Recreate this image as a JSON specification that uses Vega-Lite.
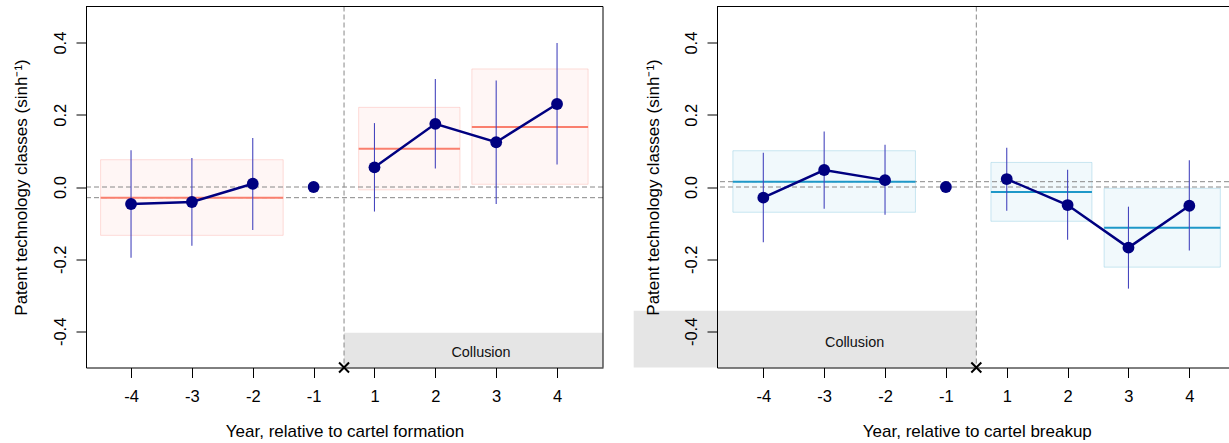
{
  "$schema": "https://vega.github.io/schema/vega-lite/v6.json",
  "padding": {"left": 12, "top": 5.5, "right": 0, "bottom": 0},
  "background": "white",
  "config": {
    "font": "Liberation Sans",
    "view": {"stroke": null},
    "axis": {"grid": false, "domain": true, "domainColor": "#000", "domainWidth": 1, "tickColor": "#000", "tickWidth": 1, "tickSize": 10, "labelColor": "#000", "labelFontSize": 16.5, "titleColor": "#000", "titleFontSize": 17, "titleFontWeight": "normal", "zindex": 1, "labelFlush": false, "labelOverlap": false}
  },
  "datasets": {
    "pts": [
      {"panel": "F", "year": -4, "x": -4, "grp": "pre", "est": -0.047, "lo": -0.196, "hi": 0.102},
      {"panel": "F", "year": -3, "x": -3, "grp": "pre", "est": -0.0415, "lo": -0.163, "hi": 0.080},
      {"panel": "F", "year": -2, "x": -2, "grp": "pre", "est": 0.009, "lo": -0.119, "hi": 0.136},
      {"panel": "F", "year": -1, "x": -1, "grp": "ref", "est": 0.0, "lo": null, "hi": null},
      {"panel": "F", "year": 1, "x": 0, "grp": "post", "est": 0.0545, "lo": -0.068, "hi": 0.177},
      {"panel": "F", "year": 2, "x": 1, "grp": "post", "est": 0.175, "lo": 0.051, "hi": 0.299},
      {"panel": "F", "year": 3, "x": 2, "grp": "post", "est": 0.124, "lo": -0.047, "hi": 0.295},
      {"panel": "F", "year": 4, "x": 3, "grp": "post", "est": 0.230, "lo": 0.062, "hi": 0.399},
      {"panel": "B", "year": -4, "x": -4, "grp": "pre", "est": -0.0296, "lo": -0.153, "hi": 0.095},
      {"panel": "B", "year": -3, "x": -3, "grp": "pre", "est": 0.047, "lo": -0.060, "hi": 0.154},
      {"panel": "B", "year": -2, "x": -2, "grp": "pre", "est": 0.019, "lo": -0.077, "hi": 0.117},
      {"panel": "B", "year": -1, "x": -1, "grp": "ref", "est": 0.0, "lo": null, "hi": null},
      {"panel": "B", "year": 1, "x": 0, "grp": "post", "est": 0.022, "lo": -0.066, "hi": 0.109},
      {"panel": "B", "year": 2, "x": 1, "grp": "post", "est": -0.050, "lo": -0.146, "hi": 0.048},
      {"panel": "B", "year": 3, "x": 2, "grp": "post", "est": -0.168, "lo": -0.2815, "hi": -0.0545},
      {"panel": "B", "year": 4, "x": 3, "grp": "post", "est": -0.052, "lo": -0.176, "hi": 0.074}
    ],
    "boxes": [
      {"panel": "F", "x1": -4.5, "x2": -1.5, "lo": -0.134, "hi": 0.0756, "mean": -0.0296},
      {"panel": "F", "x1": -0.26, "x2": 1.405, "lo": -0.008, "hi": 0.2206, "mean": 0.106},
      {"panel": "F", "x1": 1.60, "x2": 3.51, "lo": 0.0075, "hi": 0.327, "mean": 0.166},
      {"panel": "B", "x1": -4.5, "x2": -1.5, "lo": -0.070, "hi": 0.1005, "mean": 0.0147},
      {"panel": "B", "x1": -0.26, "x2": 1.40, "lo": -0.095, "hi": 0.068, "mean": -0.0138},
      {"panel": "B", "x1": 1.60, "x2": 3.51, "lo": -0.222, "hi": -0.0036, "mean": -0.1127}
    ],
    "hlines": [
      {"panel": "F", "y": 0},
      {"panel": "F", "y": -0.0296},
      {"panel": "B", "y": 0},
      {"panel": "B", "y": 0.0147}
    ],
    "event": [
      {"panel": "F", "x": -0.5, "y": -0.5},
      {"panel": "B", "x": -0.5, "y": -0.5}
    ],
    "coll": [
      {"panel": "F", "x1": -0.5, "x2": 3.755, "y1": -0.5, "y2": -0.404, "tx": 1.75, "ty": -0.4603, "label": "Collusion"},
      {"panel": "B", "x1": -6.13, "x2": -0.5, "y1": -0.5, "y2": -0.343, "tx": -2.5, "ty": -0.431, "label": "Collusion"}
    ],
    "frame": [
      {"panel": "F", "top": 0.5, "right": 3.755},
      {"panel": "B", "top": 0.5, "right": null}
    ]
  },
  "hconcat": [
    {
      "width": 517,
      "height": 361,
      "layer": [
        {
          "data": {"name": "coll"},
          "transform": [{"filter": "datum.panel == 'F'"}],
          "mark": {"type": "rect", "color": "#E5E5E5"},
          "encoding": {
            "x": {"field": "x1", "type": "quantitative", "scale": {"domain": [-4.74, 3.755], "nice": false, "zero": false},
                  "axis": {"title": "Year, relative to cartel formation", "values": [-4, -3, -2, -1, 0, 1, 2, 3], "zindex": 1,
                           "labelExpr": "datum.value < 0 ? '-' + abs(datum.value) : '' + (datum.value + 1)",
                           "labelBaseline": "alphabetic", "labelPadding": 23.5, "titleBaseline": "alphabetic", "titleY": 68.5}},
            "x2": {"field": "x2"},
            "y": {"field": "y1", "type": "quantitative", "scale": {"domain": [-0.5, 0.5], "nice": false, "zero": false},
                  "axis": {"title": "Patent technology classes (sinh⁻¹)", "values": [-0.4, -0.2, 0, 0.2, 0.4], "zindex": 1,
                           "labelExpr": "datum.value < 0 ? '-' + format(abs(datum.value), '.1f') : format(datum.value, '.1f')",
                           "labelAngle": 270, "labelAlign": "center", "labelBaseline": "alphabetic", "labelPadding": 11,
                           "titleAngle": 270, "titleAlign": "center", "titleBaseline": "alphabetic", "titleX": -59.5, "titleY": 180.5}},
            "y2": {"field": "y2"}
          }
        },
        {
          "data": {"name": "boxes"},
          "transform": [{"filter": "datum.panel == 'F'"}],
          "mark": {"type": "rect", "fill": "#FA8072", "fillOpacity": 0.07, "stroke": "#FA8072", "strokeOpacity": 0.25, "strokeWidth": 1},
          "encoding": {
            "x": {"field": "x1", "type": "quantitative"},
            "x2": {"field": "x2"},
            "y": {"field": "lo", "type": "quantitative"},
            "y2": {"field": "hi"}
          }
        },
        {
          "data": {"name": "hlines"},
          "transform": [{"filter": "datum.panel == 'F'"}],
          "mark": {"type": "rule", "color": "#888888", "strokeWidth": 1, "strokeDash": [5, 3]},
          "encoding": {"y": {"field": "y", "type": "quantitative"}}
        },
        {
          "data": {"name": "event"},
          "transform": [{"filter": "datum.panel == 'F'"}],
          "mark": {"type": "rule", "color": "#888888", "strokeWidth": 1, "strokeDash": [5, 3]},
          "encoding": {"x": {"field": "x", "type": "quantitative"}}
        },
        {
          "data": {"name": "boxes"},
          "transform": [{"filter": "datum.panel == 'F'"}],
          "mark": {"type": "rule", "color": "#FA7F6E", "strokeWidth": 2},
          "encoding": {
            "x": {"field": "x1", "type": "quantitative"},
            "x2": {"field": "x2"},
            "y": {"field": "mean", "type": "quantitative"}
          }
        },
        {
          "data": {"name": "pts"},
          "transform": [{"filter": "datum.panel == 'F' && datum.lo != null"}],
          "mark": {"type": "rule", "color": "#4646BE", "strokeWidth": 1.1},
          "encoding": {
            "x": {"field": "x", "type": "quantitative"},
            "y": {"field": "lo", "type": "quantitative"},
            "y2": {"field": "hi"}
          }
        },
        {
          "data": {"name": "pts"},
          "transform": [{"filter": "datum.panel == 'F' && datum.grp != 'ref'"}],
          "mark": {"type": "line", "color": "#000080", "strokeWidth": 2.5},
          "encoding": {
            "x": {"field": "x", "type": "quantitative"},
            "y": {"field": "est", "type": "quantitative"},
            "detail": {"field": "grp"}
          }
        },
        {
          "data": {"name": "pts"},
          "transform": [{"filter": "datum.panel == 'F'"}],
          "mark": {"type": "circle", "color": "#000080", "size": 140, "opacity": 1},
          "encoding": {
            "x": {"field": "x", "type": "quantitative"},
            "y": {"field": "est", "type": "quantitative"}
          }
        },
        {
          "data": {"name": "event"},
          "transform": [{"filter": "datum.panel == 'F'"}],
          "mark": {"type": "point", "shape": "M-1,-1L1,1M-1,1L1,-1", "filled": false, "stroke": "#000", "strokeWidth": 2, "size": 100, "opacity": 1},
          "encoding": {
            "x": {"field": "x", "type": "quantitative"},
            "y": {"field": "y", "type": "quantitative"}
          }
        },
        {
          "data": {"name": "coll"},
          "transform": [{"filter": "datum.panel == 'F'"}],
          "mark": {"type": "text", "fontSize": 14.4, "color": "#111", "align": "center", "baseline": "middle"},
          "encoding": {
            "x": {"field": "tx", "type": "quantitative"},
            "y": {"field": "ty", "type": "quantitative"},
            "text": {"field": "label"}
          }
        },
        {
          "data": {"name": "frame"},
          "transform": [{"filter": "datum.panel == 'F'"}],
          "mark": {"type": "rule", "color": "#000", "strokeWidth": 1},
          "encoding": {"y": {"field": "top", "type": "quantitative"}}
        },
        {
          "data": {"name": "frame"},
          "transform": [{"filter": "datum.panel == 'F' && datum.right != null"}],
          "mark": {"type": "rule", "color": "#000", "strokeWidth": 1},
          "encoding": {"x": {"field": "right", "type": "quantitative"}}
        }
      ]
    },
    {
      "width": 512,
      "height": 361,
      "layer": [
        {
          "data": {"name": "coll"},
          "transform": [{"filter": "datum.panel == 'B'"}],
          "mark": {"type": "rect", "color": "#E5E5E5"},
          "encoding": {
            "x": {"field": "x1", "type": "quantitative", "scale": {"domain": [-4.761, 3.652], "nice": false, "zero": false},
                  "axis": {"title": "Year, relative to cartel breakup", "values": [-4, -3, -2, -1, 0, 1, 2, 3], "zindex": 1,
                           "labelExpr": "datum.value < 0 ? '-' + abs(datum.value) : '' + (datum.value + 1)",
                           "labelBaseline": "alphabetic", "labelPadding": 23.5, "titleBaseline": "alphabetic", "titleY": 68.5, "titleX": 259.8}},
            "x2": {"field": "x2"},
            "y": {"field": "y1", "type": "quantitative", "scale": {"domain": [-0.5, 0.5], "nice": false, "zero": false},
                  "axis": {"title": "Patent technology classes (sinh⁻¹)", "values": [-0.4, -0.2, 0, 0.2, 0.4], "zindex": 1,
                           "labelExpr": "datum.value < 0 ? '-' + format(abs(datum.value), '.1f') : format(datum.value, '.1f')",
                           "labelAngle": 270, "labelAlign": "center", "labelBaseline": "alphabetic", "labelPadding": 11,
                           "titleAngle": 270, "titleAlign": "center", "titleBaseline": "alphabetic", "titleX": -59, "titleY": 180.5}},
            "y2": {"field": "y2"}
          }
        },
        {
          "data": {"name": "boxes"},
          "transform": [{"filter": "datum.panel == 'B'"}],
          "mark": {"type": "rect", "fill": "#3AA6D0", "fillOpacity": 0.07, "stroke": "#3AA6D0", "strokeOpacity": 0.25, "strokeWidth": 1},
          "encoding": {
            "x": {"field": "x1", "type": "quantitative"},
            "x2": {"field": "x2"},
            "y": {"field": "lo", "type": "quantitative"},
            "y2": {"field": "hi"}
          }
        },
        {
          "data": {"name": "hlines"},
          "transform": [{"filter": "datum.panel == 'B'"}],
          "mark": {"type": "rule", "color": "#888888", "strokeWidth": 1, "strokeDash": [5, 3]},
          "encoding": {"y": {"field": "y", "type": "quantitative"}}
        },
        {
          "data": {"name": "event"},
          "transform": [{"filter": "datum.panel == 'B'"}],
          "mark": {"type": "rule", "color": "#888888", "strokeWidth": 1, "strokeDash": [5, 3]},
          "encoding": {"x": {"field": "x", "type": "quantitative"}}
        },
        {
          "data": {"name": "boxes"},
          "transform": [{"filter": "datum.panel == 'B'"}],
          "mark": {"type": "rule", "color": "#1E98C8", "strokeWidth": 2},
          "encoding": {
            "x": {"field": "x1", "type": "quantitative"},
            "x2": {"field": "x2"},
            "y": {"field": "mean", "type": "quantitative"}
          }
        },
        {
          "data": {"name": "pts"},
          "transform": [{"filter": "datum.panel == 'B' && datum.lo != null"}],
          "mark": {"type": "rule", "color": "#4646BE", "strokeWidth": 1.1},
          "encoding": {
            "x": {"field": "x", "type": "quantitative"},
            "y": {"field": "lo", "type": "quantitative"},
            "y2": {"field": "hi"}
          }
        },
        {
          "data": {"name": "pts"},
          "transform": [{"filter": "datum.panel == 'B' && datum.grp != 'ref'"}],
          "mark": {"type": "line", "color": "#000080", "strokeWidth": 2.5},
          "encoding": {
            "x": {"field": "x", "type": "quantitative"},
            "y": {"field": "est", "type": "quantitative"},
            "detail": {"field": "grp"}
          }
        },
        {
          "data": {"name": "pts"},
          "transform": [{"filter": "datum.panel == 'B'"}],
          "mark": {"type": "circle", "color": "#000080", "size": 140, "opacity": 1},
          "encoding": {
            "x": {"field": "x", "type": "quantitative"},
            "y": {"field": "est", "type": "quantitative"}
          }
        },
        {
          "data": {"name": "event"},
          "transform": [{"filter": "datum.panel == 'B'"}],
          "mark": {"type": "point", "shape": "M-1,-1L1,1M-1,1L1,-1", "filled": false, "stroke": "#000", "strokeWidth": 2, "size": 100, "opacity": 1},
          "encoding": {
            "x": {"field": "x", "type": "quantitative"},
            "y": {"field": "y", "type": "quantitative"}
          }
        },
        {
          "data": {"name": "coll"},
          "transform": [{"filter": "datum.panel == 'B'"}],
          "mark": {"type": "text", "fontSize": 14.4, "color": "#111", "align": "center", "baseline": "middle"},
          "encoding": {
            "x": {"field": "tx", "type": "quantitative"},
            "y": {"field": "ty", "type": "quantitative"},
            "text": {"field": "label"}
          }
        },
        {
          "data": {"name": "frame"},
          "transform": [{"filter": "datum.panel == 'B'"}],
          "mark": {"type": "rule", "color": "#000", "strokeWidth": 1},
          "encoding": {"y": {"field": "top", "type": "quantitative"}}
        }
      ]
    }
  ],
  "spacing": 114,
  "bounds": "flush"
}
